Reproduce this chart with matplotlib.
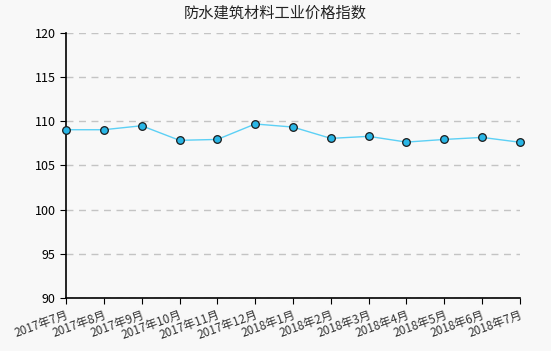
import matplotlib
matplotlib.use("Agg")
import matplotlib.pyplot as plt

plt.rcParams['font.family'] = ['Noto Sans CJK SC', 'DejaVu Sans']

months = ["2017年7月", "2017年8月", "2017年9月", "2017年10月", "2017年11月",
          "2017年12月", "2018年1月", "2018年2月", "2018年3月", "2018年4月",
          "2018年5月", "2018年6月", "2018年7月"]
values = [109.05, 109.05, 109.5, 107.85, 107.95, 109.7, 109.35,
          108.07, 108.3, 107.65, 107.95, 108.18, 107.63]
yticks = [90, 95, 100, 105, 110, 115, 120]

fig = plt.figure(figsize=(5.51, 3.51), dpi=100, facecolor="#f8f8f8")
ax = fig.add_axes([66 / 551, 53 / 351, 454 / 551, 265 / 351])
ax.set_facecolor("#f8f8f8")

x = list(range(len(months)))
ax.plot(x, values, color="#5cd0f5", lw=1, zorder=3, clip_on=False)
ax.plot(x, values, ls="none", marker="o", ms=5.5, mfc="#29b6e6",
        mec="#1a1a1a", mew=0.9, zorder=4, clip_on=False)

ax.set_xlim(0, len(months) - 1)
ax.set_ylim(90, 120)
ax.set_yticks(yticks)
ax.set_xticks(x)
ax.set_xticklabels(months, rotation=20, ha="right", rotation_mode="anchor",
                   fontsize=8.5, color="#333333")
ax.tick_params(axis="y", labelsize=9, length=4, color="black")
ax.tick_params(axis="x", length=4, color="black")

ax.grid(axis="y", ls=(0, (5, 4)), color="#c4c4c4", lw=1)
for s in ("top", "right"):
    ax.spines[s].set_visible(False)
for s in ("left", "bottom"):
    ax.spines[s].set_color("black")
    ax.spines[s].set_linewidth(1.2)

fig.text(0.5, 1 - 13 / 351, "防水建筑材料工业价格指数", ha="center", va="center",
         fontsize=11, color="#222222")

fig.savefig("out.png", dpi=100, facecolor=fig.get_facecolor())
